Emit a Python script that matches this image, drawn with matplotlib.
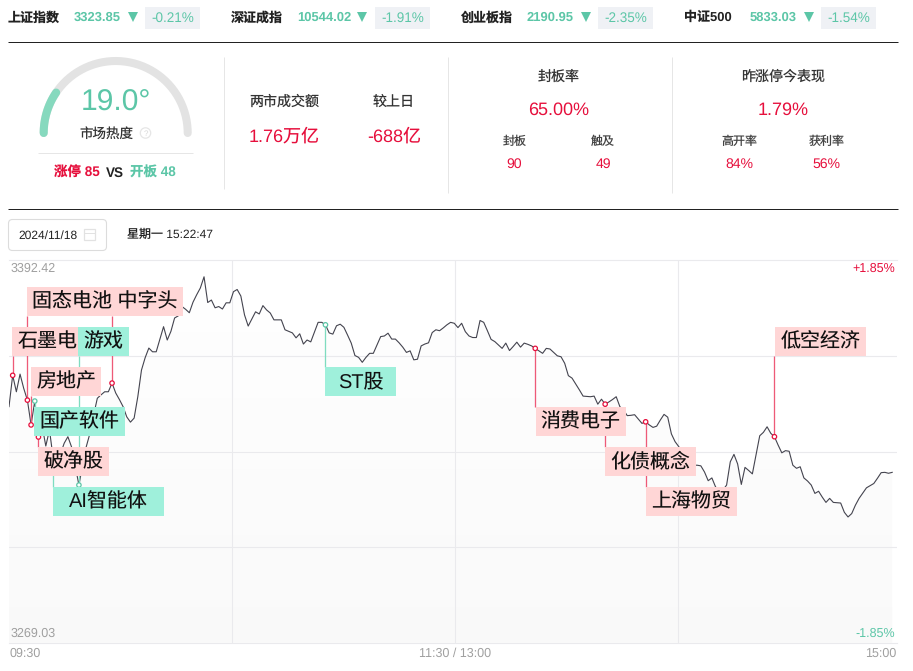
import numpy as np
from matplotlib import pyplot as plt
from matplotlib.patches import Circle, FancyBboxPatch, Rectangle

plt.rcParams['font.family'] = ['Liberation Sans', 'Noto Sans CJK SC', 'DejaVu Sans']
plt.rcParams['text.hinting'] = 'no_hinting'

# 顶部指数
index_names = ["上证指数", "深证成指", "创业板指", "中证500"]
index_values = ["3323.85", "10544.02", "2190.95", "5833.03"]
index_changes = ["-0.21%", "-1.91%", "-2.35%", "-1.54%"]

# 市场概况
heat_value = 19.0
limit_up = 85
limit_open = 48
turnover = "1.76万亿"
turnover_diff = "-688亿"
seal_rate = "65.00%"
seal_count = 90
touch_count = 49
yesterday_perf = "1.79%"
high_open_rate = "84%"
profit_rate = "56%"

date_text = "2024/11/18"
time_text = "星期一 15:22:47"

# 分时数据
price_top = 3392.42
price_bottom = 3269.03
pct_labels = ["+1.85%", "-1.85%"]
time_labels = ["09:30", "11:30 / 13:00", "15:00"]
prices = [
    3345.2, 3355.3, 3350.0, 3355.7, 3351.1, 3347.3, 3339.3, 3347.0, 3335.4, 3339.0,
    3332.5, 3337.7, 3328.6, 3331.2, 3330.0, 3333.4, 3335.5, 3332.2, 3326.0, 3319.9,
    3326.3, 3332.3, 3336.6, 3342.5, 3347.9, 3349.0, 3350.0, 3350.0, 3352.8, 3349.6,
    3347.5, 3345.2, 3341.9, 3340.2, 3341.5, 3348.4, 3357.0, 3361.0, 3364.1, 3362.9,
    3362.9, 3367.0, 3371.0, 3366.7, 3369.5, 3373.8, 3374.5, 3377.5, 3376.6, 3375.5,
    3378.9, 3381.3, 3383.5, 3387.1, 3378.8, 3379.6, 3377.1, 3377.5, 3376.7, 3378.7,
    3378.7, 3382.3, 3383.0, 3380.9, 3374.8, 3371.2, 3373.5, 3375.8, 3375.1, 3377.8,
    3376.4, 3375.4, 3373.2, 3373.2, 3373.2, 3370.0, 3369.5, 3369.0, 3367.4, 3368.7,
    3365.4, 3366.7, 3366.1, 3369.3, 3372.4, 3372.4, 3371.6, 3369.0, 3368.6, 3371.3,
    3371.8, 3370.8, 3368.3, 3365.7, 3361.7, 3361.1, 3359.5, 3361.1, 3362.4, 3362.4,
    3365.1, 3367.8, 3368.0, 3368.9, 3367.0, 3367.0, 3365.8, 3364.4, 3362.7, 3363.2,
    3360.3, 3360.5, 3364.8, 3365.4, 3365.8, 3369.1, 3370.0, 3369.7, 3370.6, 3371.6,
    3372.4, 3372.1, 3370.7, 3372.1, 3369.4, 3368.0, 3367.5, 3367.5, 3373.0, 3372.4,
    3369.7, 3366.9, 3366.2, 3365.1, 3364.0, 3365.7, 3363.3, 3364.6, 3366.0, 3364.4,
    3365.7, 3365.3, 3364.8, 3364.0, 3363.2, 3362.4, 3364.0, 3363.8, 3362.7, 3361.6,
    3361.3, 3359.2, 3355.2, 3354.4, 3352.5, 3350.6, 3348.6, 3348.5, 3348.4, 3348.6,
    3346.0, 3347.6, 3346.0, 3346.7, 3347.5, 3348.4, 3345.2, 3344.1, 3342.3, 3342.4,
    3342.6, 3341.2, 3339.8, 3340.3, 3339.3, 3338.5, 3338.9, 3340.9, 3342.7, 3341.8,
    3336.4, 3333.9, 3332.3, 3330.5, 3328.6, 3327.3, 3326.3, 3326.3, 3326.1, 3324.1,
    3321.3, 3322.2, 3319.3, 3318.3, 3318.3, 3319.9, 3327.4, 3329.8, 3326.7, 3320.1,
    3325.6, 3324.6, 3323.5, 3329.6, 3335.8, 3336.9, 3338.7, 3336.6, 3335.5, 3332.8,
    3330.3, 3331.0, 3330.8, 3326.3, 3325.3, 3325.8, 3322.2, 3321.2, 3319.9, 3317.2,
    3317.9, 3316.0, 3314.3, 3315.6, 3314.3, 3314.2, 3314.1, 3311.1, 3309.6, 3310.7,
    3313.4, 3315.6, 3317.3, 3319.0, 3319.7, 3320.4, 3322.1, 3323.9, 3324.0, 3323.7,
    3324.0,
]

# 异动事件
event_minutes = [1, 5, 28, 6, 7, 8, 12, 19, 86, 143, 162, 173, 208]
event_is_up = [True, True, True, True, False, True, False, False, False, True, True, True, True]
label_texts = ["石墨电", "固态电池 中字头", "房地产", "国产软件", "破净股", "AI智能体", "游戏",
               "ST股", "消费电子", "化债概念", "上海物贸", "低空经济"]
label_is_up = [True, True, True, False, True, False, False, False, True, True, True, True]

RED = "#E60F3C"
GREEN = "#5CC6A7"
PINK = "#FFD6D6"
MINT = "#9FF0DB"
DARK = "#222222"
W, H = 913, 671
PX_PER_MINUTE = 3.68

# 标签框位置 (x0, y0, x1, y1), 以及每条引线到框边的像素 y
label_boxes = [(12, 327, 104, 356), (27, 287, 183, 316), (31, 367, 101, 396), (34, 407, 125, 436),
               (38, 447, 109, 476), (52.5, 487, 163.5, 516), (78, 327, 129, 356), (325, 367, 396, 396),
               (535.5, 407, 626, 436), (605, 447, 696, 476), (646, 487, 737, 516), (775, 327, 866, 356)]
leader_ends = [356, 316, 316, 396, 407, 447, 487, 356, 367, 407, 447, 487, 356]

fig = plt.figure(figsize=(W / 100, H / 100), dpi=100, facecolor="white")

# 分时图
ax = fig.add_axes([9 / W, 1 - 642.7 / H, (897 - 9) / W, (642.7 - 260.3) / H])
minutes = np.arange(len(prices))
grid_x = [60.6, 121.1, 181.7]
ax.set_yticks(np.linspace(price_bottom, price_top, 5)[1:-1])
ax.set_xticks(grid_x)
ax.grid(True, color="#EAEAED", lw=0.8)
ax.set_axisbelow('line')
ax.tick_params(length=0, labelbottom=False, labelleft=False)
for name, spine in ax.spines.items():
    spine.set_color("#EAEAED")
    spine.set_linewidth(0.8)
    spine.set_visible(name in ("top", "bottom"))

level = np.linspace(255, 249.5, 64).reshape(-1, 1) / 255
shade = ax.imshow(np.dstack([level, level, level]),
                  extent=[0, minutes[-1], price_bottom, price_top], aspect="auto", zorder=1)
fill = ax.fill_between(minutes, prices, price_bottom, color="none")
shade.set_clip_path(fill.get_paths()[0], transform=ax.transData)
ax.set_xlim(0, (897 - 9) / PX_PER_MINUTE)
ax.set_ylim(price_bottom, price_top)
ax.plot(minutes, prices, color="#44444F", lw=0.8, zorder=2)

# 覆盖层, 坐标就是像素
ov = fig.add_axes([0, 0, 1, 1], facecolor="none")
ov.set_xlim(0, W)
ov.set_ylim(H, 0)
ov.axis("off")


def txt(x, y, s, size=14, color=DARK, ha="center", bold=False, zorder=6):
    ov.text(x, y - 1.2, s, fontsize=size * 0.72, color=color, ha=ha, va="center_baseline",
            fontweight="bold" if bold else "normal", zorder=zorder)


def hline(y, x0, x1, color, lw=1.0):
    ov.plot([x0, x1], [y, y], color=color, lw=lw * 0.72, solid_capstyle="butt")


def vline(x, y0, y1, color, lw=1.0, zorder=2):
    ov.plot([x, x], [y0, y1], color=color, lw=lw * 0.72, solid_capstyle="butt", zorder=zorder)


# 坐标轴文字
txt(11, 268, f"{price_top:.2f}", 12.5, "#A0A0A0", "left")
txt(11, 633, f"{price_bottom:.2f}", 12.5, "#A0A0A0", "left")
txt(895, 268, pct_labels[0], 12.5, RED, "right")
txt(895, 633, pct_labels[1], 12.5, GREEN, "right")
txt(9.5, 653, time_labels[0], 12.5, "#A0A0A0", "left")
txt(455, 653, time_labels[1], 12.5, "#A0A0A0")
txt(896, 653, time_labels[2], 12.5, "#A0A0A0", "right")

# 指数栏
name_x = [8, 231, 460.5, 684]
value_x = [74, 297, 527, 750]
arrow_x = [133, 361.5, 586, 809]
box_x = [145, 375, 598, 821]
for i in range(4):
    txt(name_x[i], 17.5, index_names[i], 13, DARK, "left", True)
    txt(value_x[i], 17.5, index_values[i], 13, GREEN, "left", True)
    ov.plot(arrow_x[i], 16.5, marker="v", color=GREEN, ms=7.5, mew=0)
    ov.add_patch(Rectangle((box_x[i], 7), 55, 22, fc="#EFF1F5", ec="none"))
    txt(box_x[i] + 27.5, 17.5, index_changes[i], 13.5, GREEN)
hline(41.5, 8, 898, DARK)
hline(208.5, 8, 898, DARK)

# 热度仪表
cx, cy, r = 115.7, 133, 72
t = np.radians(np.linspace(180, 0, 200))
ov.plot(cx + r * np.cos(t), cy - r * np.sin(t), color="#E3E3E3", lw=5.8, solid_capstyle="round")
t = np.radians(np.linspace(180, 180 - heat_value * 1.8, 60))
ov.plot(cx + r * np.cos(t), cy - r * np.sin(t), color="#86D9BE", lw=5.8, solid_capstyle="round")
txt(115.5, 101, f"{heat_value:.1f}°", 30, GREEN)
txt(106, 133.5, "市场热度", 13.5, "#333333")
ov.add_patch(Circle((145.5, 133), 5.2, fc="white", ec="#E6E6E6", lw=0.9))
txt(145.5, 134, "?", 8, "#D8D8D8")
hline(152.5, 38, 193, "#E6E6E6")
txt(54, 172.5, f"涨停 {limit_up}", 13.5, RED, "left", True)
txt(115, 172.5, "VS", 13.5, DARK, "center", True)
txt(176, 172.5, f"开板 {limit_open}", 13.5, GREEN, "right", True)

for x, y1 in [(223.5, 189), (447.5, 193), (671.5, 193)]:
    vline(x, 57, y1, "#E6E6E6")

# 成交额
txt(284, 101.5, "两市成交额", 14, "#333333")
txt(394, 101.5, "较上日", 14, "#333333")
txt(284.5, 136.5, turnover, 18, RED)
txt(394, 136.5, turnover_diff, 18, RED)

# 封板率
txt(558.7, 76.5, "封板率", 14, "#333333")
txt(558.5, 109.5, seal_rate, 18, RED)
txt(514.3, 141.5, "封板", 12, "#444444")
txt(603.3, 141.5, "触及", 12, "#444444")
txt(514.3, 163.5, str(seal_count), 14, RED)
txt(603.3, 163.5, str(touch_count), 14, RED)

# 昨涨停今表现
txt(783.3, 76.5, "昨涨停今表现", 14, "#333333")
txt(783.3, 109.5, yesterday_perf, 18, RED)
txt(739.3, 141.5, "高开率", 12, "#444444")
txt(826.7, 141.5, "获利率", 12, "#444444")
txt(739.3, 163.5, high_open_rate, 14, RED)
txt(826.7, 163.5, profit_rate, 14, RED)

# 日期框
ov.add_patch(FancyBboxPatch((8.5, 219.5), 98, 31, boxstyle="round,pad=0,rounding_size=4", fc="white", ec="#DCDCDC",
                            lw=0.8))
txt(18.5, 235.5, date_text, 12, DARK, "left")
ov.add_patch(Rectangle((84, 229), 11, 11, fc="white", ec="#E2E2E2", lw=0.9))
hline(232.5, 84, 95, "#E2E2E2")
txt(127, 234.5, time_text, 12, DARK, "left")

# 异动引线和圆点
for m, up, end in zip(event_minutes, event_is_up, leader_ends):
    px, py = ax.transData.transform((m, prices[m]))
    py = H - py
    vline(px, py, end, "#EE5A78" if up else "#7FDCC0", 1.3, zorder=3)
    ov.add_patch(Circle((px, py), 2.2, fc="white", ec=RED if up else "#5CC6A7", lw=0.9, zorder=4))

# 标签
for i, (label, up, box) in enumerate(zip(label_texts, label_is_up, label_boxes)):
    x0, y0, x1, y1 = box
    z = 5 + i * 0.1
    ov.add_patch(Rectangle((x0, y0), x1 - x0, y1 - y0, fc=PINK if up else MINT, ec="none", zorder=z))
    if label == "石墨电":
        txt(18, (y0 + y1) / 2, label, 20, "#111111", "left", zorder=z + 0.01)
    else:
        txt((x0 + x1) / 2, (y0 + y1) / 2, label, 20, "#111111", zorder=z + 0.01)

fig.savefig("out.png", dpi=100, facecolor="white")
